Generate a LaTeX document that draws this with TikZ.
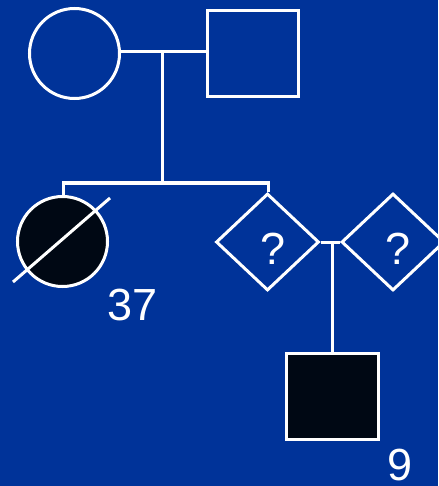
\documentclass[tikz,border=0pt]{standalone}
\usepackage{fontspec}
\setmainfont{Liberation Sans}
\usetikzlibrary{shapes.geometric}
\definecolor{bgblue}{RGB}{0,51,153}
\definecolor{affected}{RGB}{0,8,20}
\begin{document}
\begin{tikzpicture}[x=1pt,y=-1pt,
  lineW/.style={draw=white,line width=3pt},
  female/.style={circle,draw=white,line width=3pt,minimum size=90pt,inner sep=0pt},
  male/.style={rectangle,draw=white,line width=3pt,inner sep=0pt},
  unknown/.style={diamond,draw=white,line width=3pt,minimum width=103pt,minimum height=97pt,inner sep=0pt},
  lbl/.style={text=white,font=\fontsize{45}{54}\selectfont,inner sep=0pt}]
\fill[bgblue] (0,0) rectangle (438,486);
\useasboundingbox (0,0) rectangle (438,486);
\clip (0,0) rectangle (438,486);
% parents
\node[female] (mother) at (74.5,53.5) {};
\node[male,minimum width=91pt,minimum height=86pt] (father) at (252.5,54) {};
\draw[lineW] (mother.east |- 0,52) -- (father.west |- 0,52);
\coordinate (mate) at (162,52);
\coordinate (sib) at (162,183);
\draw[lineW] (mate) -- (sib);
% children
\node[female,fill=affected] (daughter) at (62.5,241.5) {};
\node[unknown] (child2) at (267.5,242) {};
\node[unknown] (partner) at (393,242) {};
\coordinate (sibL) at (63,183);
\coordinate (sibR) at (268,183);
\draw[lineW] (sibL |- daughter.north) -- (sibL) -- (sibR) -- (sibR |- child2.north);
% deceased slash
\coordinate (slashA) at (13,282);
\coordinate (slashB) at (110,198);
\draw[lineW] (slashA) -- (slashB);
\node[lbl] (age37) at (133,305) {37};
\node[lbl] (q1) at (273,248.5) {?};
\node[lbl] (q2) at (398,249) {?};
% second mating
\draw[lineW] (child2.east) -- (partner.west);
\coordinate (mate2) at (332,242);
\node[male,fill=affected,minimum width=92pt,minimum height=86pt] (grandson) at (332,396) {};
\draw[lineW] (mate2) -- (grandson.north);
\node[lbl] (age9) at (400.5,465.5) {9};
\end{tikzpicture}
\end{document}
